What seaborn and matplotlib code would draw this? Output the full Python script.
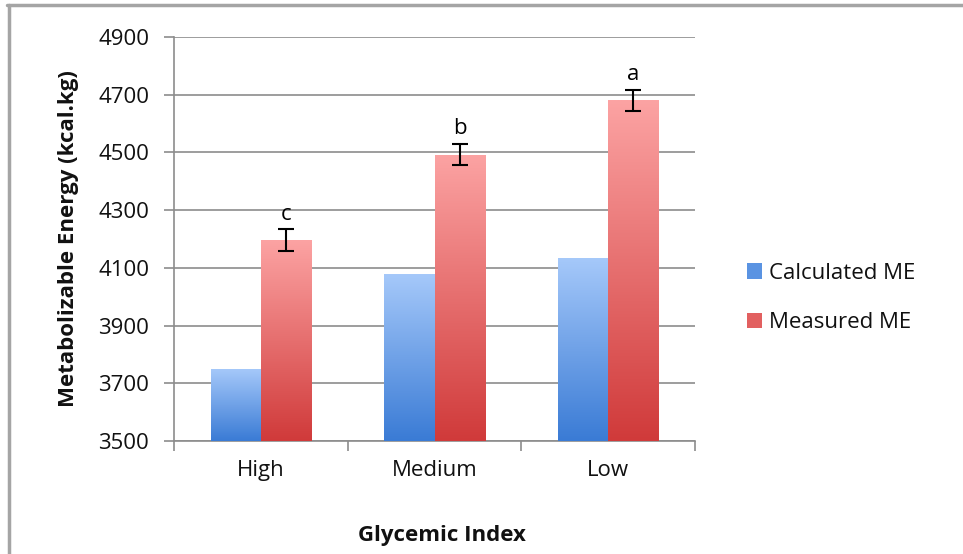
import numpy as np
import pandas as pd
import matplotlib
matplotlib.use("Agg")
import matplotlib.pyplot as plt
import seaborn as sns
from matplotlib.colors import LinearSegmentedColormap
from matplotlib.patches import Patch
from matplotlib.lines import Line2D

categories = ["High", "Medium", "Low"]
series = ["Calculated ME", "Measured ME"]
calculated = [3750, 4080, 4135]
measured = [4195, 4492, 4680]
measured_err = [38, 37, 36]
letters = ["c", "b", "a"]
yticks = [3500, 3700, 3900, 4100, 4300, 4500, 4700, 4900]

sns.set_theme(style="white")
plt.rcParams["font.family"] = ["Open Sans", "DejaVu Sans"]

df = pd.DataFrame({
    "Glycemic Index": categories * 2,
    "ME": calculated + measured,
    "Series": [series[0]] * 3 + [series[1]] * 3,
})

fig = plt.figure(figsize=(9.63, 5.54), dpi=100)
ax = fig.add_axes([0.1807, 0.2040, 0.7217 - 0.1807, 0.9332 - 0.2040])

sns.barplot(data=df, x="Glycemic Index", y="ME", hue="Series", order=categories,
            hue_order=series, palette=["#6aa0e8", "#e86a6a"], width=0.576,
            errorbar=None, ax=ax, legend=False, zorder=3, linewidth=0)

ax.set_ylim(3500, 4900)
ax.set_xlim(-0.5, 2.5)

grads = [("#a6c9fa", "#3a7bd5"), ("#fca3a3", "#d03a3a")]
for cont, (top, bot) in zip(ax.containers, grads):
    cmap = LinearSegmentedColormap.from_list("g", [bot, top])
    for bar in cont:
        x0, y0 = bar.get_x(), bar.get_y()
        w, h = bar.get_width(), bar.get_height()
        grad = np.linspace(0, 1, 256).reshape(-1, 1)
        im = ax.imshow(grad, extent=[x0, x0 + w, 3500, y0 + h], origin="lower",
                       aspect="auto", cmap=cmap, zorder=3.5)
        im.set_clip_path(bar)
        bar.set_alpha(0)
ax.set_aspect("auto")
ax.set_xlim(-0.5, 2.5)
ax.set_ylim(3500, 4900)

# error bars and letters on measured bars
for bar, err, lt in zip(ax.containers[1], measured_err, letters):
    xc = bar.get_x() + bar.get_width() / 2
    yv = bar.get_height()
    ax.errorbar(xc, yv, yerr=err, fmt="none", ecolor="black", elinewidth=1.5,
                capsize=6, capthick=1.5, zorder=5)
    ax.text(xc, yv + err + 16, lt, ha="center", va="bottom", fontsize=16, color="black")

ax.set_yticks(yticks)
ax.set_yticklabels([str(v) for v in yticks])
ax.yaxis.grid(True, color="#8c8c8c", linewidth=1.2, zorder=0)
ax.set_axisbelow(True)

for s in ["top", "right"]:
    ax.spines[s].set_visible(False)
for s in ["left", "bottom"]:
    ax.spines[s].set_color("#8c8c8c")
    ax.spines[s].set_linewidth(1.2)

ax.tick_params(axis="y", which="both", left=True, length=7, width=1.2, color="#8c8c8c",
               labelsize=16, pad=11, labelcolor="#111111")
ax.set_xticks([-0.5, 0.5, 1.5, 2.5], minor=False)
ax.set_xticklabels(["", "", "", ""])
ax.set_xticks([0, 1, 2], minor=True)
ax.set_xticklabels(categories, minor=True)
ax.tick_params(axis="x", which="major", bottom=True, length=7, width=1.2, color="#8c8c8c")
ax.tick_params(axis="x", which="minor", bottom=False, length=0, labelsize=16, pad=14,
               labelcolor="#111111")

ax.set_xlabel("")
fig.text(442 / 963, 1 - 535 / 554, "Glycemic Index", ha="center", va="center",
         fontsize=16, fontweight="bold", color="#111111")
ax.set_ylabel("Metabolizable Energy (kcal.kg)", fontsize=16, fontweight="bold",
              labelpad=14, color="#111111")

handles = [Patch(facecolor="#5a93e2", edgecolor="none"),
           Patch(facecolor="#e26060", edgecolor="none")]
fig.legend(handles, series, loc="center left", bbox_to_anchor=(0.766, 0.462),
           frameon=False, fontsize=16, handlelength=0.7, handleheight=0.7,
           handletextpad=0.3, labelspacing=1.3, borderaxespad=0,
           labelcolor="#111111")

# outer frame lines (top and left)
fig.add_artist(Line2D([7 / 963, 1], [1 - 5 / 554, 1 - 5 / 554], color="#a5a5a5",
                      linewidth=2.5, transform=fig.transFigure))
fig.add_artist(Line2D([8.5 / 963, 8.5 / 963], [0, 1 - 5 / 554], color="#a5a5a5",
                      linewidth=2.5, transform=fig.transFigure))

fig.savefig("out.png", dpi=100)
